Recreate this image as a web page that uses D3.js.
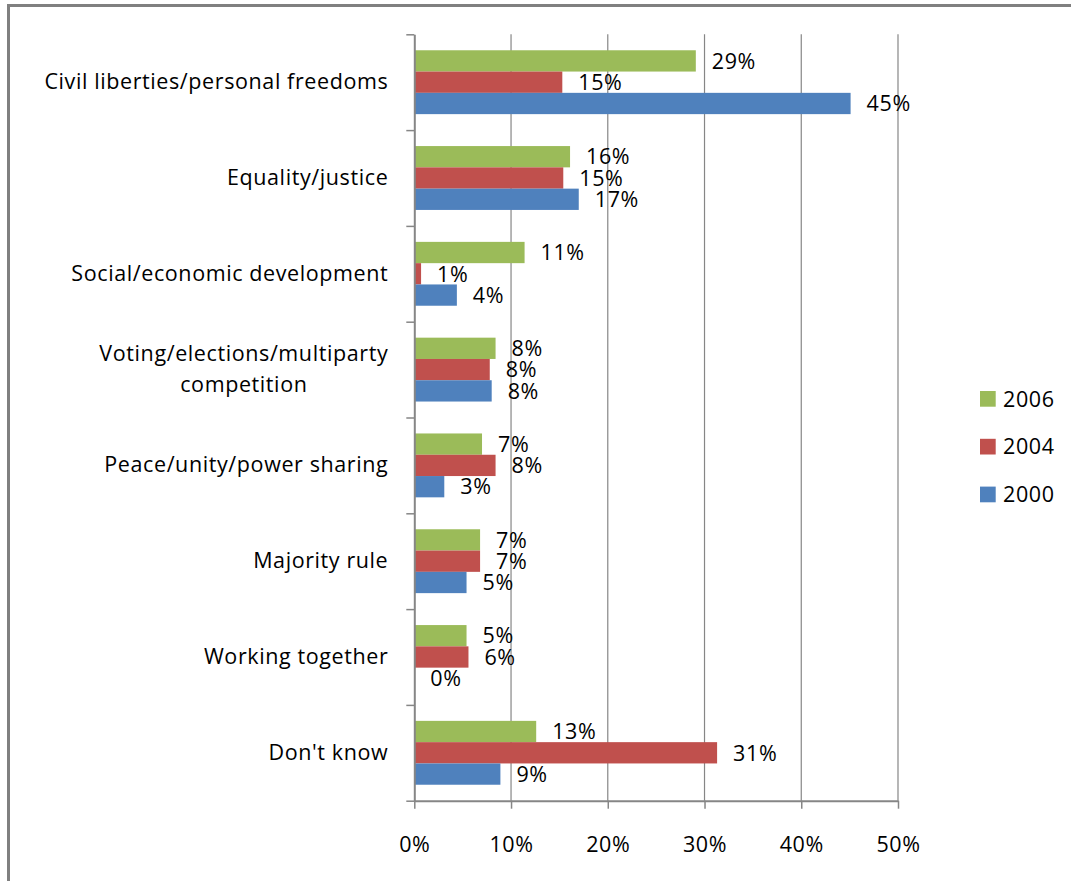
<!DOCTYPE html>
<html>
<head>
<meta charset="utf-8">
<script src="https://cdn.jsdelivr.net/npm/d3@7"></script>
<style>
  html, body { margin: 0; padding: 0; background: #fff; }
  svg { display: block; }
  text { font-family: "Open Sans", "Noto Sans", sans-serif; fill: #000; letter-spacing: 0.6px; }
</style>
</head>
<body>
<svg id="chart" width="1071" height="881"></svg>
<script>
// Answers by survey year (share of respondents)
const categories = [
  "Civil liberties/personal freedoms",
  "Equality/justice",
  "Social/economic development",
  "Voting/elections/multiparty competition",
  "Peace/unity/power sharing",
  "Majority rule",
  "Working together",
  "Don't know"
];
const seriesNames = ["2006", "2004", "2000"];
const values2006 = [29.1, 16.1, 11.4, 8.4, 7.0, 6.8, 5.4, 12.6];
const values2004 = [15.3, 15.4, 0.7, 7.8, 8.4, 6.8, 5.6, 31.3];
const values2000 = [45.1, 17.0, 4.4, 8.0, 3.1, 5.4, 0.0, 8.9];
const xTicks = [0, 10, 20, 30, 40, 50];
const colors = ["#9BBB59", "#C0504D", "#4F81BD"];

const seriesValues = [values2006, values2004, values2000];
const rows = categories.map((c, i) => ({
  category: c,
  bars: seriesNames.map((s, j) => ({ series: s, value: seriesValues[j][i], color: colors[j] }))
}));

const svg = d3.select("#chart");
const fontSize = 21.5;
const fontFamily = '"Open Sans", "Noto Sans", sans-serif';
const gridColor = "#868686";

const plot = { left: 414.3, right: 898, top: 34.3, bottom: 800.7 };

const x = d3.scaleLinear().domain([0, 50]).range([plot.left, plot.right]);
const y = d3.scaleBand().domain(categories).range([plot.top, plot.bottom]).padding(0);
const bw = y.bandwidth();
// bars fill two thirds of each category slot (gap width 50%)
const ySeries = d3.scaleBand().domain(seriesNames).range([bw / 6, bw * 5 / 6]).padding(0);

// Outer frame (top and left edges)
svg.append("path")
  .attr("d", "M 8.5 881 L 8.5 5.5 L 1071 5.5")
  .attr("fill", "none")
  .attr("stroke", "#808080")
  .attr("stroke-width", 3);

// Vertical gridlines
svg.append("g")
  .selectAll("line")
  .data(xTicks.filter(t => t > 0))
  .join("line")
  .attr("x1", d => x(d)).attr("x2", d => x(d))
  .attr("y1", plot.top).attr("y2", plot.bottom)
  .attr("stroke", gridColor)
  .attr("stroke-width", 1.2);

// Bars
const groups = svg.append("g")
  .selectAll("g")
  .data(rows)
  .join("g")
  .attr("transform", d => `translate(0,${y(d.category)})`);

groups.selectAll("rect")
  .data(d => d.bars)
  .join("rect")
  .attr("x", x(0))
  .attr("y", d => ySeries(d.series))
  .attr("width", d => x(d.value) - x(0))
  .attr("height", ySeries.bandwidth())
  .attr("fill", d => d.color);

// Value labels
groups.selectAll("text")
  .data(d => d.bars)
  .join("text")
  .attr("x", d => x(d.value) + 16)
  .attr("y", d => ySeries(d.series) + ySeries.bandwidth() / 2)
  .attr("dy", "0.36em")
  .attr("font-size", fontSize)
  .text(d => Math.round(d.value) + "%");

// X axis
const xAxis = svg.append("g")
  .attr("transform", `translate(0,${plot.bottom})`)
  .call(d3.axisBottom(x).tickValues(xTicks).tickFormat(d => d + "%").tickSize(8).tickPadding(28).tickSizeOuter(0));
xAxis.select(".domain").attr("stroke", gridColor).attr("stroke-width", 2);
xAxis.selectAll(".tick line").attr("stroke", gridColor).attr("stroke-width", 1.5);
xAxis.selectAll(".tick text").attr("font-size", fontSize).attr("font-family", fontFamily).attr("fill", "#000");

// Y axis: category labels
const yAxis = svg.append("g")
  .attr("transform", `translate(${plot.left},0)`)
  .call(d3.axisLeft(y).tickSize(0).tickPadding(26));
yAxis.select(".domain").remove();
yAxis.selectAll(".tick text")
  .attr("font-size", fontSize)
  .attr("font-family", fontFamily)
  .attr("fill", "#000")
  .each(function (d) {
    if (d === "Voting/elections/multiparty competition") {
      const t = d3.select(this);
      t.text(null).attr("text-anchor", "middle");
      const lines = ["Voting/elections/multiparty", "competition"];
      // centre the two-line block under a right edge at the label column
      const tmp = t.append("tspan").text(lines[0]);
      const w = this.getComputedTextLength();
      tmp.remove();
      const cx = -26 - w / 2;
      lines.forEach((ln, k) => {
        t.append("tspan")
          .attr("x", cx)
          .attr("dy", k === 0 ? "-0.4em" : "1.45em")
          .text(ln);
      });
    }
  });

// Y axis: slot boundary ticks
const yIdx = d3.scaleLinear().domain([0, categories.length]).range([plot.top, plot.bottom]);
const yTicksAxis = svg.append("g")
  .attr("transform", `translate(${plot.left},0)`)
  .call(d3.axisLeft(yIdx).ticks(categories.length).tickFormat("").tickSize(8).tickSizeOuter(0));
yTicksAxis.select(".domain").attr("stroke", gridColor).attr("stroke-width", 2);
yTicksAxis.selectAll(".tick line").attr("stroke", gridColor).attr("stroke-width", 1.5);

// Legend
const legend = svg.append("g")
  .selectAll("g")
  .data(seriesNames)
  .join("g")
  .attr("transform", (d, i) => `translate(980,${391 + i * 47.8})`);
legend.append("rect")
  .attr("width", 15.7).attr("height", 15.7)
  .attr("fill", (d, i) => colors[i]);
legend.append("text")
  .attr("x", 23)
  .attr("y", 7.9)
  .attr("dy", "0.36em")
  .attr("font-size", fontSize)
  .text(d => d);
</script>
</body>
</html>
